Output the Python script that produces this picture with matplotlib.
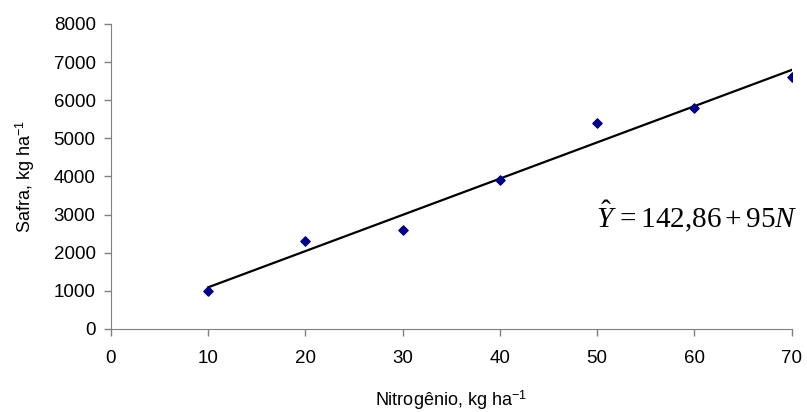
import numpy as np
import matplotlib
matplotlib.use("Agg")
import matplotlib.pyplot as plt

nitrogenio = [10, 20, 30, 40, 50, 60, 70]
safra = [1000, 2300, 2600, 3900, 5400, 5800, 6600]
x_ticks = [0, 10, 20, 30, 40, 50, 60, 70]
y_ticks = [0, 1000, 2000, 3000, 4000, 5000, 6000, 7000, 8000]

plt.rcParams["font.family"] = ["Liberation Sans", "DejaVu Sans"]
plt.rcParams["mathtext.fontset"] = "custom"
plt.rcParams["mathtext.rm"] = "Liberation Serif"
plt.rcParams["mathtext.it"] = "Liberation Serif:italic"
plt.rcParams["mathtext.sf"] = "Liberation Sans"

fig = plt.figure(figsize=(8.07, 4.12), dpi=100)
ax = fig.add_axes([0.1375, 0.2015, 0.8435, 0.7405])

b, a = np.polyfit(nitrogenio, safra, 1)
xl = np.array([min(nitrogenio), max(nitrogenio)])
ax.plot(xl, a + b * xl, color="black", lw=1.6, zorder=2)
ax.scatter(nitrogenio, safra, marker="D", s=22, color="#000080", zorder=3)

ax.set_xlim(0, 70)
ax.set_ylim(0, 8000)
ax.set_xticks(x_ticks)
ax.set_yticks(y_ticks)
ax.tick_params(labelsize=13.5, color="#808080", length=5, width=1)
ax.tick_params(axis="y", pad=6)
ax.tick_params(axis="x", pad=10)
for side in ["top", "right"]:
    ax.spines[side].set_visible(False)
for side in ["left", "bottom"]:
    ax.spines[side].set_color("#808080")

ax.set_xlabel("Nitrogênio, kg ha$^{\\mathsf{-1}}$", fontsize=13, labelpad=16)
ax.set_ylabel("Safra, kg ha$^{\\mathsf{-1}}$", fontsize=13, labelpad=12)

ax.text(70.6, 2950, r"$\hat{Y}\,= 142{,}86 + 95N$", fontsize=21,
        ha="right", va="center")

fig.savefig("out.png", dpi=100)
